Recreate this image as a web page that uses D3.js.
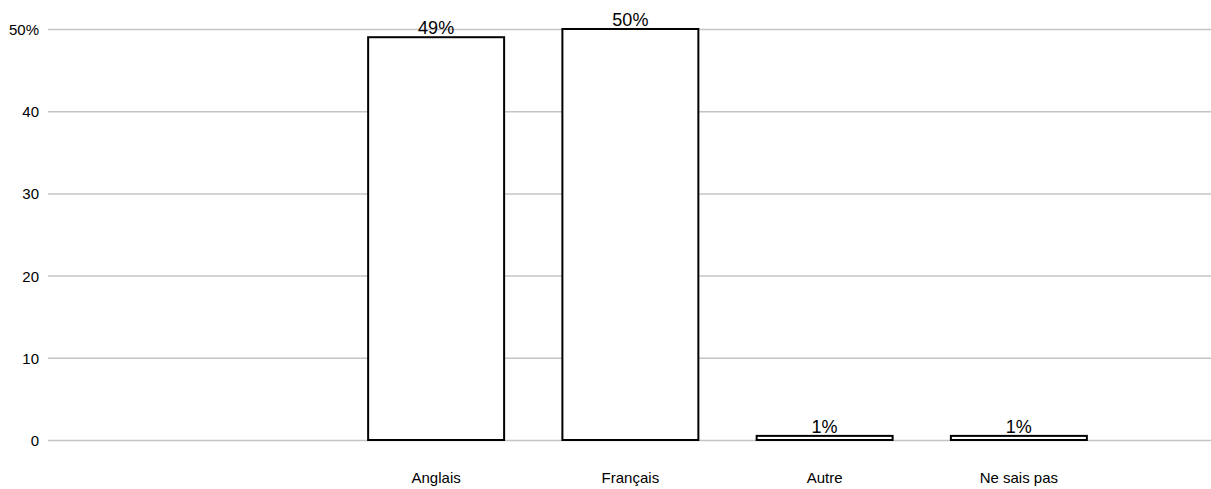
<!DOCTYPE html>
<html><head><meta charset="utf-8">
<script src="https://cdn.jsdelivr.net/npm/d3@7"></script>
<style>
body{margin:0;background:#fff;}
text{font-family:Helvetica,"Liberation Sans",Arial,sans-serif;fill:#000;}
</style></head>
<body><svg id="c" width="1211" height="489"></svg>
<script>
const categories = ["Anglais","Français","Autre","Ne sais pas"];
const values = [49, 50, 0.5, 0.5];
const valueLabels = ["49%","50%","1%","1%"];
const yTicks = [0,10,20,30,40,50];
const yTickLabels = ["0","10","20","30","40","50%"];

(function(){
const svg = d3.select("#c");
const mLeft = 48, mRight = 1211, mTop = 29, mBottom = 440;

const y = d3.scaleLinear().domain([0,50]).range([mBottom, mTop]);
const x = d3.scaleBand().domain(categories).range([339, 1116]).paddingInner(0.3).paddingOuter(0.15);

// gridlines
svg.append("g").selectAll("line").data(yTicks).join("line")
  .attr("x1", mLeft).attr("x2", mRight)
  .attr("y1", d => y(d)+0.5).attr("y2", d => y(d)+0.5)
  .attr("stroke", "#c4c4c4").attr("stroke-width", 1.5);

// y tick labels
svg.append("g").selectAll("text").data(yTicks).join("text")
  .attr("x", 39).attr("y", d => y(d)+6)
  .attr("text-anchor", "end").attr("font-size", 15)
  .text((d,i) => yTickLabels[i]);

// bars
svg.append("g").selectAll("rect").data(values).join("rect")
  .attr("x", (d,i) => x(categories[i]))
  .attr("y", d => y(d))
  .attr("width", x.bandwidth())
  .attr("height", d => mBottom - y(d))
  .attr("fill", "#fff").attr("stroke", "#000").attr("stroke-width", 2);

// value labels
svg.append("g").selectAll("text").data(values).join("text")
  .attr("x", (d,i) => x(categories[i]) + x.bandwidth()/2)
  .attr("y", d => y(d) - 3)
  .attr("text-anchor", "middle").attr("font-size", 18)
  .text((d,i) => valueLabels[i]);

// category labels
svg.append("g").selectAll("text").data(categories).join("text")
  .attr("x", d => x(d) + x.bandwidth()/2)
  .attr("y", 483)
  .attr("text-anchor", "middle").attr("font-size", 15)
  .text(d => d);
})();
</script></body></html>
